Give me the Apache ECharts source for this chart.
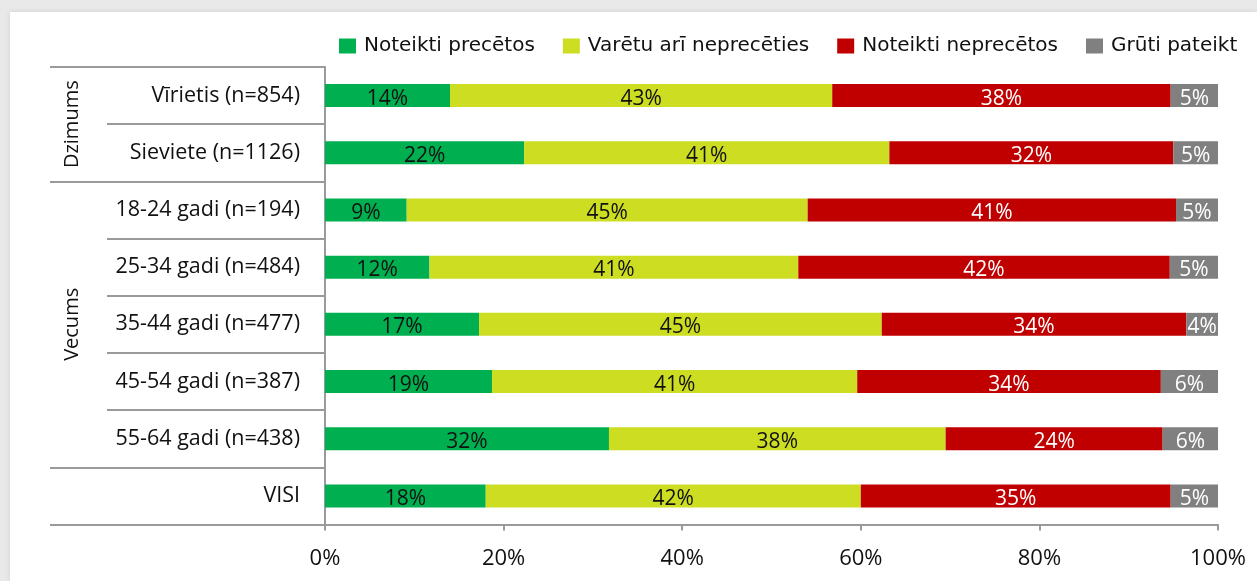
<!DOCTYPE html>
<html>
<head>
<meta charset="utf-8">
<script src="https://cdn.jsdelivr.net/npm/echarts@6/dist/echarts.min.js"></script>
<style>
  html, body { margin: 0; padding: 0; width: 1257px; height: 581px; overflow: hidden; background: #e9e9e9; }
  #frame { position: absolute; left: 10px; top: 12px; right: 0; bottom: 0; background: #fff; box-shadow: 0 0 6px rgba(0,0,0,0.10); }
  #chart { position: absolute; left: 0; top: 0; width: 1257px; height: 581px; }
</style>
</head>
<body>
<div id="frame"></div>
<div id="chart"></div>
<script>
const categories = ['Vīrietis (n=854)', 'Sieviete (n=1126)', '18-24 gadi (n=194)', '25-34 gadi (n=484)', '35-44 gadi (n=477)', '45-54 gadi (n=387)', '55-64 gadi (n=438)', 'VISI'];
const seriesNames = ['Noteikti precētos', 'Varētu arī neprecēties', 'Noteikti neprecētos', 'Grūti pateikt'];
const noteiktiPrecetos   = [14.0, 22.3, 9.15, 11.7, 17.25, 18.7, 31.8, 18.0];
const varetuNeprecet     = [42.8, 40.9, 44.9, 41.3, 45.1, 40.9, 37.7, 42.0];
const noteiktiNeprecetos = [37.9, 31.8, 41.25, 41.6, 34.1, 34.0, 24.3, 34.7];
const grutiPateikt       = [5.3, 5.0, 4.7, 5.4, 3.6, 6.4, 6.2, 5.3];
const groups = [
  { name: 'Dzimums', first: 0, last: 1 },
  { name: 'Vecums', first: 2, last: 6 }
];
const groupStarts = [0, 2, 7];
const xTicks = [0, 20, 40, 60, 80, 100];

const colors = ['#00B050', '#CCDD22', '#C00000', '#808080'];
const labelColors = ['#111', '#111', '#fff', '#fff'];
const values = [noteiktiPrecetos, varetuNeprecet, noteiktiNeprecetos, grutiPateikt];
const lineColor = '#9a9a9a';

const chart = echarts.init(document.getElementById('chart'), null, { renderer: 'canvas' });

const series = seriesNames.map((name, i) => ({
  name: name,
  type: 'bar',
  stack: 'total',
  barWidth: 23,
  data: values[i],
  itemStyle: { color: colors[i] },
  label: {
    show: true,
    position: 'inside',
    offset: [0, 3],
    formatter: p => Math.round(p.value) + '%',
    color: labelColors[i],
    fontFamily: 'Open Sans',
    fontSize: 21
  },
  emphasis: { disabled: true }
}));

chart.setOption({
  animation: false,
  backgroundColor: 'transparent',
  legend: {
    data: seriesNames,
    left: 334,
    top: 31,
    itemWidth: 17,
    itemHeight: 15,
    itemGap: 28,
    icon: 'rect',
    textStyle: { fontFamily: 'DejaVu Sans', fontSize: 20, color: '#111', padding: [0, 0, 0, 3] }
  },
  grid: { left: 325, right: 39, top: 67, bottom: 56.5, containLabel: false },
  xAxis: {
    type: 'value',
    min: xTicks[0],
    max: xTicks[xTicks.length - 1],
    interval: 20,
    axisLine: { show: true, lineStyle: { color: lineColor, width: 2 } },
    axisTick: { show: true, length: 6, lineStyle: { color: lineColor, width: 2 } },
    splitLine: { show: false },
    axisLabel: { formatter: '{value}%', margin: 23, fontFamily: 'Open Sans', fontSize: 22, color: '#111' }
  },
  yAxis: [
    {
      type: 'category',
      data: categories,
      inverse: true,
      position: 'left',
      axisLine: { show: true, lineStyle: { color: lineColor, width: 2 } },
      axisTick: { show: true, length: 218, lineStyle: { color: lineColor, width: 2 } },
      axisLabel: { margin: 25, fontFamily: 'Open Sans', fontSize: 21.5, color: '#111' }
    },
    {
      type: 'category',
      data: categories,
      inverse: true,
      position: 'left',
      axisLine: { show: false },
      axisTick: {
        show: true, length: 275,
        interval: (idx) => groupStarts.indexOf(idx) >= 0,
        lineStyle: { color: lineColor, width: 2 }
      },
      axisLabel: { show: false }
    }
  ],
  series: series
});

const graphics = groups.map(g => {
  const y1 = chart.convertToPixel({ yAxisIndex: 0 }, categories[g.first]);
  const y2 = chart.convertToPixel({ yAxisIndex: 0 }, categories[g.last]);
  return {
    type: 'text',
    x: 72,
    y: (y1 + y2) / 2,
    rotation: Math.PI / 2,
    style: {
      text: g.name,
      fontFamily: 'Open Sans',
      fontSize: 20,
      fill: '#111',
      textAlign: 'center',
      textVerticalAlign: 'middle'
    }
  };
});
chart.setOption({ graphic: graphics });
</script>
</body>
</html>
